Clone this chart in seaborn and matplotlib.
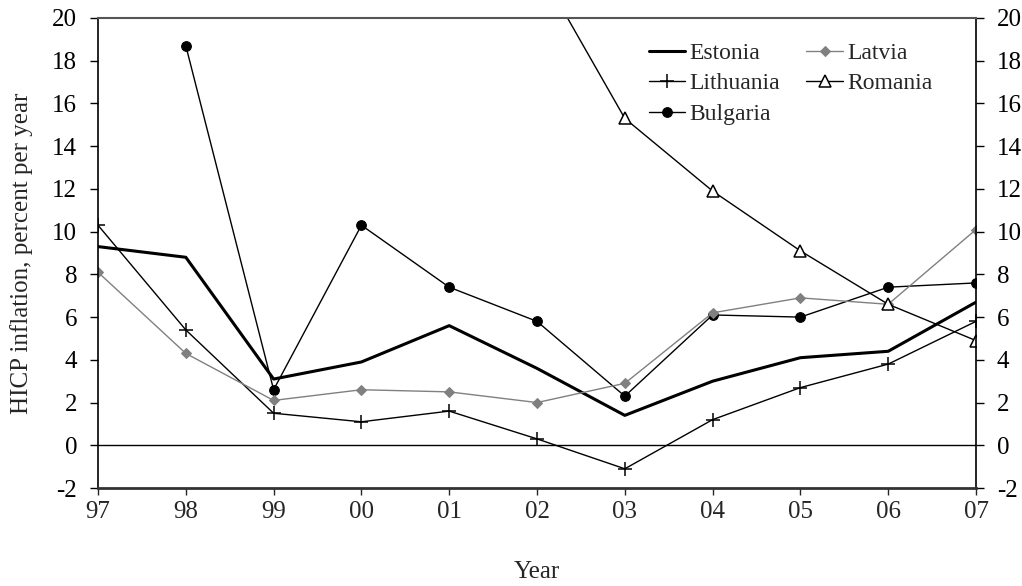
import matplotlib
matplotlib.use("Agg")
import matplotlib.pyplot as plt
import numpy as np
import pandas as pd
import seaborn as sns

years = ["97", "98", "99", "00", "01", "02", "03", "04", "05", "06", "07"]
estonia = [9.3, 8.8, 3.1, 3.9, 5.6, 3.6, 1.4, 3.0, 4.1, 4.4, 6.7]
latvia = [8.1, 4.3, 2.1, 2.6, 2.5, 2.0, 2.9, 6.2, 6.9, 6.6, 10.1]
lithuania = [10.3, 5.4, 1.5, 1.1, 1.6, 0.3, -1.1, 1.2, 2.7, 3.8, 5.8]
bulgaria = [np.nan, 18.7, 2.6, 10.3, 7.4, 5.8, 2.3, 6.1, 6.0, 7.4, 7.6]
romania = [154.8, 59.1, 45.8, 45.7, 34.5, 22.5, 15.3, 11.9, 9.1, 6.6, 4.9]

df = pd.DataFrame({"pos": range(len(years)), "Estonia": estonia, "Latvia": latvia,
                   "Lithuania": lithuania, "Bulgaria": bulgaria, "Romania": romania})

sns.set_style("ticks")
plt.rcParams["font.family"] = "serif"
plt.rcParams["font.serif"] = ["Liberation Serif", "DejaVu Serif"]
plt.rcParams["axes.unicode_minus"] = False

fig = plt.figure(figsize=(10.22, 5.86), dpi=100)
ax = fig.add_axes([0.0959, 0.1672, 0.8591, 0.8021])

styles = {
    "Estonia": dict(color="black", lw=2.2, marker=None),
    "Lithuania": dict(color="black", lw=1.0, marker="+", markersize=10,
                      markeredgewidth=1.1, markeredgecolor="black"),
    "Bulgaria": dict(color="black", lw=1.0, marker="o", markersize=7,
                     markeredgecolor="black"),
    "Latvia": dict(color="#808080", lw=1.0, marker="D", markersize=5.5,
                   markeredgecolor="#808080"),
    "Romania": dict(color="black", lw=1.0, marker="^", markersize=9,
                    markerfacecolor="white", markeredgecolor="black", markeredgewidth=1.1),
}

ax.axhline(0, color="black", lw=1.0, zorder=1)
for name in ["Estonia", "Lithuania", "Bulgaria", "Latvia", "Romania"]:
    sns.lineplot(data=df, x="pos", y=name, ax=ax, label=name, **styles[name])

ax.set_xlim(0, len(years) - 1)
ax.set_ylim(-2, 20)
ax.set_xticks(range(len(years)))
ax.set_xticklabels(years)
ax.set_yticks(np.arange(-2, 21, 2))
ax.tick_params(axis="y", direction="out", length=6, width=1, labelsize=18, pad=9,
               left=True, right=True, labelleft=True, labelright=True, colors="black")
ax.tick_params(axis="x", direction="out", length=5, width=1, labelsize=18, pad=4)
for s in ["left", "right"]:
    ax.spines[s].set_color("black")
    ax.spines[s].set_linewidth(1.2)
ax.spines["top"].set_color("#555555")
ax.spines["top"].set_linewidth(1.5)
ax.spines["bottom"].set_color("#333333")
ax.spines["bottom"].set_linewidth(2)

ax.set_xlabel("Year", fontsize=18, labelpad=28)
ax.set_ylabel("HICP inflation, percent per year", fontsize=18, labelpad=14)

ax.legend(ncol=2, loc="upper right", bbox_to_anchor=(0.951, 0.948), frameon=False,
          fontsize=17, handlelength=1.55, handletextpad=0.2, columnspacing=1.1,
          labelspacing=0.38, borderaxespad=0, borderpad=0)

fig.savefig("out.png", dpi=100)
